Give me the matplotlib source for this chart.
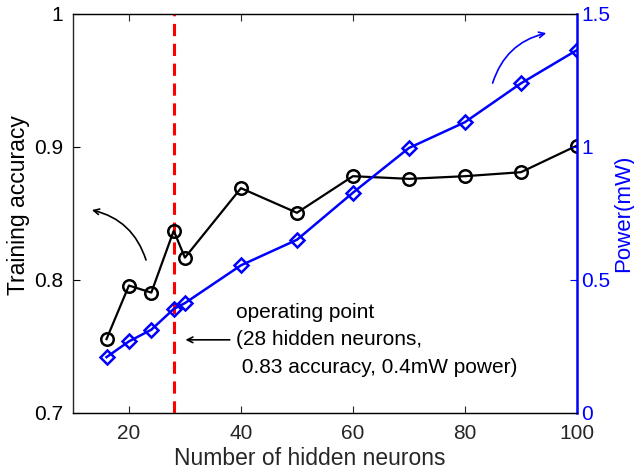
import numpy as np
import matplotlib
matplotlib.use("Agg")
import matplotlib.pyplot as plt

plt.rcParams['font.family'] = ['Liberation Sans', 'DejaVu Sans']

# data
neurons = [16, 20, 24, 28, 30, 40, 50, 60, 70, 80, 90, 100]
accuracy = [0.7555, 0.7958, 0.7905, 0.837, 0.8168, 0.869, 0.8505, 0.878, 0.876, 0.878, 0.881, 0.901]
power = [0.210, 0.269, 0.313, 0.391, 0.413, 0.555, 0.651, 0.828, 0.996, 1.093, 1.239, 1.364]
op_point = 28

fig = plt.figure(figsize=(6.34, 4.74), dpi=100)
ax = fig.add_axes([0.115, 0.1287, 0.795, 0.842])
ax2 = ax.twinx()

# accuracy on the left axis
ax.plot(neurons, accuracy, color='black', linewidth=1.6, marker='o', markersize=9,
        markerfacecolor='none', markeredgewidth=1.8, zorder=4)
ax.axvline(op_point, color='#ff0000', linestyle=(0, (4, 2.5)), linewidth=2.2, zorder=3)

# power on the right axis
ax2.plot(neurons, power, color='#0000ff', linewidth=1.8, marker='D', markersize=7,
         markerfacecolor='none', markeredgewidth=1.8, zorder=4)

ax.set_xlim(10, 100)
ax.set_ylim(0.7, 1.0)
ax2.set_ylim(0, 1.5)
ax.set_xticks([20, 40, 60, 80, 100])
ax.set_yticks([0.7, 0.8, 0.9, 1.0])
ax.set_yticklabels(['0.7', '0.8', '0.9', '1'])
ax2.set_yticks([0, 0.5, 1.0, 1.5])
ax2.set_yticklabels(['0', '0.5', '1', '1.5'])

ax.tick_params(axis='x', direction='in', top=True, length=5, labelsize=15, colors='#262626', pad=8)
ax.tick_params(axis='y', direction='in', length=5, labelsize=15, colors='black', pad=7)
ax2.tick_params(axis='y', direction='in', length=5, labelsize=15, colors='#0000ff', pad=3)
for s in ['left', 'bottom', 'top']:
    ax.spines[s].set_color('#262626')
    ax.spines[s].set_linewidth(1.0)
ax2.spines['right'].set_color('#0000ff')
ax2.spines['right'].set_linewidth(1.8)
ax2.spines['left'].set_visible(False)
ax.spines['right'].set_visible(False)

ax.set_xlabel('Number of hidden neurons', fontsize=16.5, color='#262626')
ax.xaxis.set_label_coords(0.47, -0.085)
ax.set_ylabel('Training accuracy', fontsize=16.5, color='black')
ax.yaxis.set_label_coords(-0.085, 0.52)
ax2.set_ylabel('Power(mW)', fontsize=16, color='#0000ff', labelpad=2)

# operating point note
ax.text(39.2, 0.755, 'operating point\n(28 hidden neurons,\n 0.83 accuracy, 0.4mW power)',
        fontsize=15, color='black', ha='left', va='center', linespacing=1.55)
ax.annotate('', xy=(29.6, 0.755), xytext=(38.5, 0.755),
            arrowprops=dict(arrowstyle='->', color='black', lw=1.2))

# curved arrows pointing to each axis
ax.annotate('', xy=(12.9, 0.853), xytext=(23.2, 0.813),
            arrowprops=dict(arrowstyle='->', color='black', lw=1.2,
                            connectionstyle='arc3,rad=0.3'))
ax2.annotate('', xy=(95.0, 1.43), xytext=(84.8, 1.23),
             arrowprops=dict(arrowstyle='->', color='#0000ff', lw=1.2,
                             connectionstyle='arc3,rad=-0.3'))

fig.savefig('out.png', dpi=100)
